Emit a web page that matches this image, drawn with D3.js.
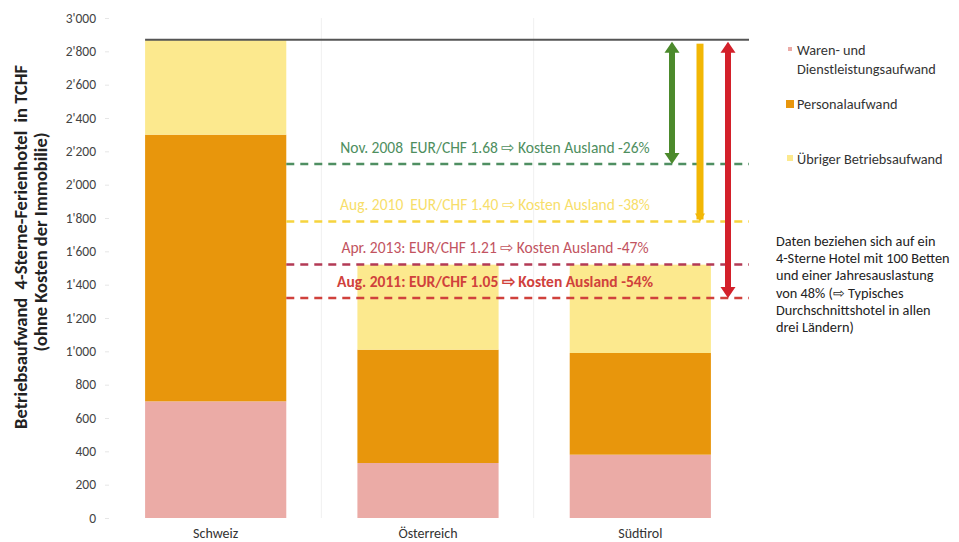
<!DOCTYPE html>
<html>
<head>
<meta charset="utf-8">
<script src="https://cdn.jsdelivr.net/npm/d3@7"></script>
<style>
  html, body { margin: 0; padding: 0; background: #fff; }
  svg { display: block; font-family: Carlito, Lato, "Open Sans", sans-serif; }
  svg text { white-space: pre; }
</style>
</head>
<body>
<svg id="chart" width="959" height="542"></svg>
<script>
// Operating costs of a 4-star holiday hotel (TCHF), by country
const countries = ["Schweiz", "Österreich", "Südtirol"];
const seriesNames = ["Waren- und Dienstleistungsaufwand", "Personalaufwand", "Übriger Betriebsaufwand"];
const waren    = [700, 330, 380];
const personal = [1600, 680, 610];
const uebriger = [570, 510, 530];
const yTicks = [0, 200, 400, 600, 800, 1000, 1200, 1400, 1600, 1800, 2000, 2200, 2400, 2600, 2800, 3000];

// Exchange-rate scenarios: cost abroad relative to the Swiss total
const scenarioLabels = [
  "Nov. 2008  EUR/CHF 1.68 ⇨ Kosten Ausland -26%",
  "Aug. 2010  EUR/CHF 1.40 ⇨ Kosten Ausland -38%",
  "Apr. 2013: EUR/CHF 1.21 ⇨ Kosten Ausland -47%",
  "Aug. 2011: EUR/CHF 1.05 ⇨ Kosten Ausland -54%"
];
const scenarioPct = [-26, -38, -47, -54];

const noteLines = [
  "Daten beziehen sich auf ein",
  "4-Sterne Hotel mit 100 Betten",
  "und einer Jahresauslastung",
  "von 48% (⇨ Typisches",
  "Durchschnittshotel in allen",
  "drei Ländern)"
];

const colors = ["#EBABA6", "#E8960C", "#FCE98E"];
const scenarioStyle = [
  { line: "#4F8F62", text: "#4E8E5E", arrow: "#4C8A2C", weight: 400, arrowX: 672, head: true },
  { line: "#F6D43E", text: "#F7DE6A", arrow: "#F2B705", weight: 400, arrowX: 700, head: false },
  { line: "#B33A55", text: "#C25360", arrow: null, weight: 400 },
  { line: "#D0413C", text: "#D0413C", arrow: "#D3202A", weight: 700, arrowX: 728, head: true }
];

const svg = d3.select("#chart");
const x = d3.scaleBand().domain(countries).range([109, 747]).paddingInner(0.335).paddingOuter(0.17);
const y = d3.scaleLinear().domain([0, 3000]).range([518, 18]);

const fmt = d3.formatLocale({ decimal: ".", thousands: "'", grouping: [3], currency: ["", ""] }).format(",d");

// faint band separators
svg.append("g").selectAll("line")
  .data([x.step() * 1 + 109, x.step() * 2 + 109])
  .join("line")
  .attr("x1", d => d).attr("x2", d => d)
  .attr("y1", y(3000)).attr("y2", y(0))
  .attr("stroke", "#f0f0f0").attr("stroke-width", 1);

// y axis
const yAxis = svg.append("g")
  .attr("transform", "translate(109,0)")
  .call(d3.axisLeft(y).tickValues(yTicks).tickFormat(fmt).tickSize(4).tickPadding(9));
yAxis.select(".domain").remove();
yAxis.selectAll(".tick line").attr("stroke", "#e6e6e6");
yAxis.selectAll(".tick text")
  .attr("font-family", "Carlito, Lato, sans-serif")
  .attr("font-size", 13.5).attr("fill", "#444");

// stacked bars
const rows = countries.map((c, i) => ({ country: c, s0: waren[i], s1: personal[i], s2: uebriger[i] }));
const stack = d3.stack().keys(["s0", "s1", "s2"])(rows);
svg.append("g").selectAll("g")
  .data(stack)
  .join("g")
  .attr("fill", (d, i) => colors[i])
  .selectAll("rect")
  .data(d => d)
  .join("rect")
  .attr("x", d => x(d.data.country))
  .attr("width", x.bandwidth())
  .attr("y", d => y(d[1]))
  .attr("height", d => y(d[0]) - y(d[1]));

// category labels
svg.append("g").selectAll("text")
  .data(countries)
  .join("text")
  .attr("x", d => x(d) + x.bandwidth() / 2)
  .attr("y", 538)
  .attr("text-anchor", "middle")
  .attr("font-size", 14).attr("fill", "#333")
  .text(d => d);

// Swiss total reference line
const swissTotal = waren[0] + personal[0] + uebriger[0];
const lineEnd = 749;
svg.append("line")
  .attr("x1", x("Schweiz")).attr("x2", lineEnd)
  .attr("y1", y(swissTotal)).attr("y2", y(swissTotal))
  .attr("stroke", "#555").attr("stroke-width", 2);

// scenario lines and labels
const scen = scenarioLabels.map((t, i) => ({ label: t, value: swissTotal * (1 + scenarioPct[i] / 100), st: scenarioStyle[i] }));
const lineStart = x("Schweiz") + x.bandwidth();
const g = svg.append("g");
scen.forEach(d => {
  g.append("line")
    .attr("x1", lineStart).attr("x2", lineEnd)
    .attr("y1", y(d.value)).attr("y2", y(d.value))
    .attr("stroke", d.st.line).attr("stroke-width", 2.6)
    .attr("stroke-dasharray", "8,6");
  g.append("text")
    .attr("x", 495).attr("y", y(d.value) - 11)
    .attr("text-anchor", "middle")
    .attr("font-size", 15.5).attr("font-weight", d.st.weight)
    .attr("fill", d.st.text)
    .text(d.label);
});

// double-headed arrows from the Swiss total down to each scenario
scen.filter(d => d.st.arrow).forEach(d => {
  const ax = d.st.arrowX, top = y(swissTotal) + 2, bot = y(d.value);
  const hw = 7.5, hh = 11;
  const a = svg.append("g").attr("fill", d.st.arrow);
  if (d.st.head) {
    a.append("rect").attr("x", ax - 3).attr("y", top + hh - 1).attr("width", 6).attr("height", bot - top - 2 * hh + 2);
    a.append("path").attr("d", `M${ax},${top} L${ax + hw},${top + hh} L${ax - hw},${top + hh} Z`);
    a.append("path").attr("d", `M${ax},${bot} L${ax + hw},${bot - hh} L${ax - hw},${bot - hh} Z`);
  } else {
    a.append("rect").attr("x", ax - 3.5).attr("y", top + 2).attr("width", 7).attr("height", bot - top - 4);
    a.append("path").attr("d", `M${ax - 5},${bot - 8} L${ax + 5},${bot - 8} L${ax},${bot} Z`);
  }
});

// legend
const legendY = [49, 104, 158];
const legendSize = [4, 8, 6];
const legend = svg.append("g");
seriesNames.forEach((name, i) => {
  legend.append("rect")
    .attr("x", 790 - legendSize[i] / 2).attr("y", legendY[i] - legendSize[i] / 2)
    .attr("width", legendSize[i]).attr("height", legendSize[i])
    .attr("fill", colors[i]);
});
const lt = legend.append("g").attr("font-size", 14.3).attr("fill", "#333");
lt.append("text").attr("x", 797).attr("y", 55).text("Waren- und");
lt.append("text").attr("x", 797).attr("y", 74).text("Dienstleistungsaufwand");
lt.append("text").attr("x", 797).attr("y", 109).text(seriesNames[1]);
lt.append("text").attr("x", 797).attr("y", 164).text(seriesNames[2]);

// note block
svg.append("g").attr("font-size", 14.3).attr("fill", "#222")
  .selectAll("text").data(noteLines).join("text")
  .attr("x", 776).attr("y", (d, i) => 246 + i * 17.2)
  .text(d => d);

// y axis title
const yt = svg.append("g").attr("font-weight", 700).attr("fill", "#222").attr("text-anchor", "middle");
yt.append("text")
  .attr("transform", "translate(27,247) rotate(-90)")
  .attr("font-size", 18.5)
  .text("Betriebsaufwand  4-Sterne-Ferienhotel  in TCHF");
yt.append("text")
  .attr("transform", "translate(47,242) rotate(-90)")
  .attr("font-size", 18.5)
  .text("(ohne Kosten der Immobilie)");
</script>
</body>
</html>
